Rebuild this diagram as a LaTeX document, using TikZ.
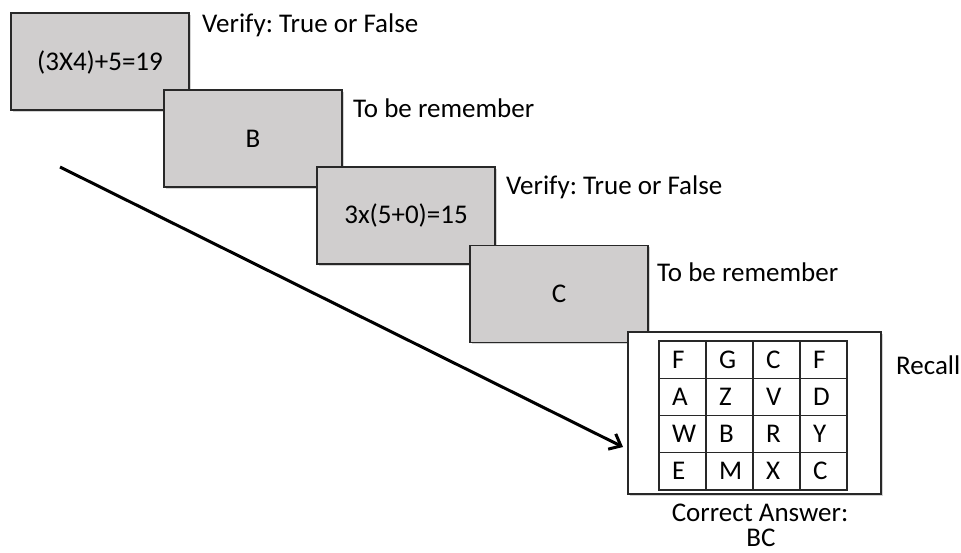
\documentclass[tikz,border=0pt]{standalone}
\usepackage{fontspec}
\setmainfont{Carlito}
\frenchspacing
\usetikzlibrary{arrows.meta,shadows}
\definecolor{boxgrey}{RGB}{208,206,206}
\definecolor{edgegrey}{RGB}{40,40,40}
\begin{document}
\begin{tikzpicture}[x=1pt,y=-1pt,
  every node/.style={font=\fontsize{27pt}{30pt}\selectfont, text=black},
  taskbox/.style={draw=edgegrey, line width=1.5pt, fill=boxgrey,
    minimum width=178pt, minimum height=97pt, inner sep=0pt,
    drop shadow={shadow xshift=1.5pt, shadow yshift=-1.8pt, opacity=0.35}},
  recallbox/.style={draw=edgegrey, line width=1.5pt, fill=white,
    minimum width=253pt, minimum height=162pt, inner sep=0pt,
    drop shadow={shadow xshift=1.5pt, shadow yshift=-1.8pt, opacity=0.35}},
  cellbox/.style={draw=edgegrey, line width=1.2pt, minimum width=47pt,
    minimum height=37.25pt, inner xsep=12pt, inner ysep=0pt,
    text width=23pt, align=left},
  sidelabel/.style={anchor=base west, inner sep=0pt},
  basetext/.style={anchor=base, inner sep=0pt},
  flowarrow/.style={line width=3pt, -{Straight Barb[length=10pt,width=17pt,line width=3pt]}}
]
\useasboundingbox (0,0) rectangle (961,552);

\node[taskbox] (t1) at (100,61.5) {};
\node[taskbox] (t2) at (253,138.5) {};
\node[taskbox] (t3) at (406,215.5) {};
\node[taskbox] (t4) at (559,294) {};
\node[recallbox] (rc) at (754.5,413) {};

\node[basetext] (x1) at (t1.center |- 0,70) {(3X4)+5=19};
\node[basetext] (x2) at (t2.center |- 0,147) {B};
\node[basetext] (x3) at (t3.center |- 0,223) {3x(5+0)=15};
\node[basetext] (x4) at (t4.center |- 0,302) {C};

\node[sidelabel] (l1) at (202,32) {Verify: True or False};
\node[sidelabel] (l2) at (353,117) {To be remember};
\node[sidelabel] (l3) at (506,194) {Verify: True or False};
\node[sidelabel] (l4) at (657,281) {To be remember};
\node[sidelabel] (l5) at (896,374) {Recall};

\foreach \row/\a/\b/\c/\d in {1/F/G/C/F, 2/A/Z/V/D, 3/W/B/R/Y, 4/E/M/X/C}{
  \foreach \col/\ch in {1/\a, 2/\b, 3/\c, 4/\d}{
    \node[cellbox] (g\row\col) at ({659+47*(\col-0.5)},{341+37.25*(\row-0.5)}) {};
    \node[anchor=base west, inner sep=0pt] (k\row\col) at ({659+47*(\col-1)+13},{368+37.25*(\row-1)}) {\ch};
  }
}

\node[basetext] (ans1) at (760,521) {Correct Answer:};
\node[basetext] (ans2) at (761,546) {BC};

\coordinate (arrS) at (60,167);
\coordinate (arrE) at (623,447);
\draw[flowarrow] (arrS) -- (arrE);
\end{tikzpicture}
\end{document}
